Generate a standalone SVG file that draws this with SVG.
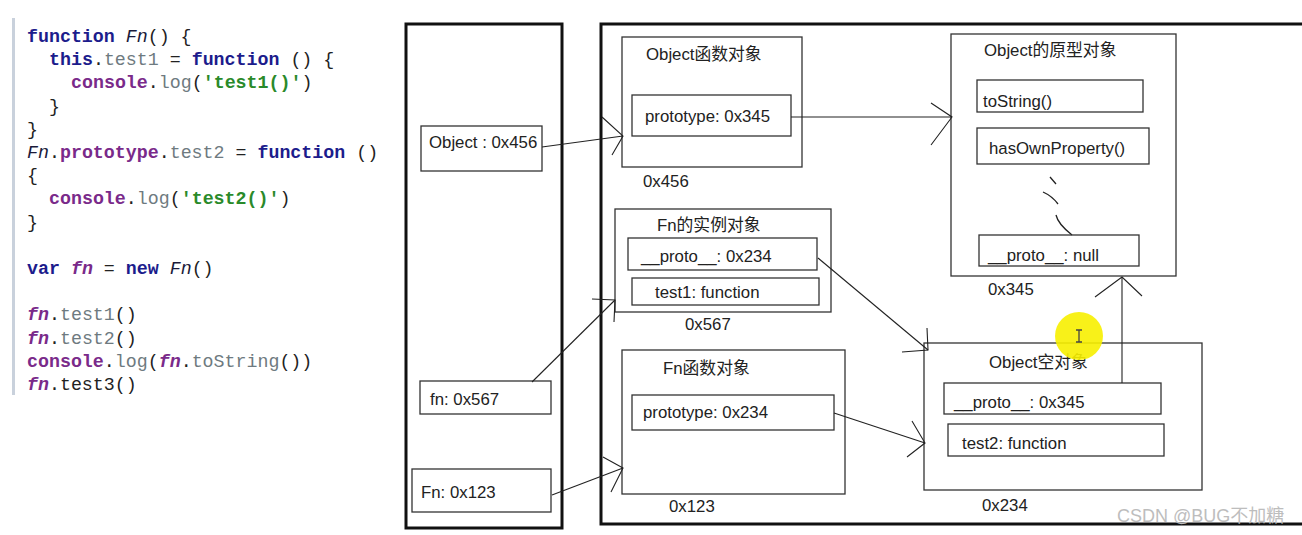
<svg xmlns="http://www.w3.org/2000/svg" width="1302" height="535" viewBox="0 0 1302 535">
<style>
.code{font-family:"Liberation Mono","DejaVu Sans Mono",monospace;font-size:18.3px;fill:#222}
.kw{fill:#1c1c8c;font-weight:bold}
.it{font-style:italic;fill:#1a1a3a}
.pu{fill:#7a2a8a;font-weight:bold}
.fi{font-style:italic;fill:#7a2a8a;font-weight:bold}
.gr{fill:#6e7a80}
.st{fill:#2a8a2a;font-weight:bold}
.lbl{font-family:"Liberation Sans","Noto Sans CJK SC",sans-serif;font-size:16.8px;fill:#222}
.box{fill:none;stroke:#333;stroke-width:1.3}
.thick{fill:none;stroke:#111;stroke-width:3}
.conn line,.conn path{stroke:#222;stroke-width:1.1;fill:none}
.wm{font-family:"Liberation Sans","Noto Sans CJK SC",sans-serif;font-size:18px;fill:#bdbdbd}
</style>
<rect width="1302" height="535" fill="#ffffff"/>
<g id="code">
<rect x="12" y="18" width="3" height="377" fill="#c9d1dc"/>
<text class="code" x="27" y="42"><tspan class="kw">function</tspan> <tspan class="it">Fn</tspan>() {</text>
<text class="code" x="49" y="65"><tspan class="kw">this</tspan>.<tspan class="gr">test1</tspan> = <tspan class="kw">function</tspan> () {</text>
<text class="code" x="71" y="88"><tspan class="pu">console</tspan>.<tspan class="gr">log</tspan>(<tspan class="st">'test1()'</tspan>)</text>
<text class="code" x="49" y="112">}</text>
<text class="code" x="27" y="135">}</text>
<text class="code" x="27" y="158"><tspan class="it">Fn</tspan>.<tspan class="pu">prototype</tspan>.<tspan class="gr">test2</tspan> = <tspan class="kw">function</tspan> ()</text>
<text class="code" x="27" y="181">{</text>
<text class="code" x="49" y="204"><tspan class="pu">console</tspan>.<tspan class="gr">log</tspan>(<tspan class="st">'test2()'</tspan>)</text>
<text class="code" x="27" y="228">}</text>
<text class="code" x="27" y="274"><tspan class="kw">var</tspan> <tspan class="fi">fn</tspan> = <tspan class="kw">new</tspan> <tspan class="it">Fn</tspan>()</text>
<text class="code" x="27" y="320"><tspan class="fi">fn</tspan>.<tspan class="gr">test1</tspan>()</text>
<text class="code" x="27" y="344"><tspan class="fi">fn</tspan>.<tspan class="gr">test2</tspan>()</text>
<text class="code" x="27" y="367"><tspan class="pu">console</tspan>.<tspan class="gr">log</tspan>(<tspan class="fi">fn</tspan>.<tspan class="gr">toString</tspan>())</text>
<text class="code" x="27" y="390"><tspan class="fi">fn</tspan>.test3()</text>
</g>
<g id="stack">
<rect class="thick" x="406" y="24" width="156" height="504"/>
</g>
<g id="heap">
<rect class="thick" x="601" y="24" width="720" height="500"/>
</g>
<g id="stack-object">
<rect class="box" x="421" y="126" width="121" height="45"/>
<text class="lbl" x="429" y="148">Object : 0x456</text>
</g>
<g id="stack-fn">
<rect class="box" x="420" y="381" width="131" height="33"/>
<text class="lbl" x="430" y="405">fn: 0x567</text>
</g>
<g id="stack-Fn">
<rect class="box" x="412" y="469" width="139" height="43"/>
<text class="lbl" x="421" y="498">Fn: 0x123</text>
</g>
<g id="object-function">
<rect class="box" x="622" y="37" width="180" height="130"/>
<text class="lbl" x="646" y="60">Object函数对象</text>
<rect class="box" x="632" y="95" width="159" height="41"/>
<text class="lbl" x="645" y="122">prototype: 0x345</text>
<text class="lbl" x="643" y="187">0x456</text>
</g>
<g id="fn-instance">
<rect class="box" x="615" y="209" width="216" height="103"/>
<text class="lbl" x="657" y="231">Fn的实例对象</text>
<rect class="box" x="628" y="238" width="189" height="32"/>
<text class="lbl" x="641" y="262">__proto__: 0x234</text>
<rect class="box" x="632" y="278" width="187" height="27"/>
<text class="lbl" x="655" y="298">test1: function</text>
<text class="lbl" x="685" y="330">0x567</text>
</g>
<g id="fn-function">
<rect class="box" x="622" y="350" width="223" height="144"/>
<text class="lbl" x="663" y="374">Fn函数对象</text>
<rect class="box" x="632" y="395" width="202" height="35"/>
<text class="lbl" x="643" y="418">prototype: 0x234</text>
<text class="lbl" x="669" y="512">0x123</text>
</g>
<g id="object-prototype">
<rect class="box" x="951" y="34" width="225" height="242"/>
<text class="lbl" x="984" y="56">Object的原型对象</text>
<rect class="box" x="977" y="80" width="166" height="32"/>
<text class="lbl" x="983" y="107">toString()</text>
<rect class="box" x="977" y="128" width="172" height="36"/>
<text class="lbl" x="989" y="154">hasOwnProperty()</text>
<path d="M1050,177 L1056,184 M1043,192 Q1052,196 1058,204 M1056,215 Q1058,224 1072,235" stroke="#222" stroke-width="1.3" fill="none"/>
<rect class="box" x="979" y="235" width="160" height="31"/>
<text class="lbl" x="988" y="261">__proto__: null</text>
<text class="lbl" x="988" y="295">0x345</text>
</g>
<g id="object-empty">
<rect class="box" x="924" y="343" width="278" height="147"/>
<text class="lbl" x="989" y="368">Object空对象</text>
<rect class="box" x="944" y="383" width="217" height="31"/>
<text class="lbl" x="954" y="408">__proto__: 0x345</text>
<rect class="box" x="948" y="424" width="216" height="32"/>
<text class="lbl" x="962" y="449">test2: function</text>
<text class="lbl" x="982" y="511">0x234</text>
</g>
<g id="connectors" class="conn">
<line x1="542" y1="147" x2="623" y2="136"/>
<path d="M602,117 L623,136 L612,155"/>
<line x1="791" y1="117" x2="952" y2="117"/>
<path d="M931,103 L952,117 L931,145"/>
<line x1="532" y1="382" x2="615" y2="300"/>
<path d="M592,299 L615,300 L614,322"/>
<line x1="552" y1="495" x2="623" y2="468"/>
<path d="M603,457 L623,468 L611,492"/>
<line x1="818" y1="258" x2="928" y2="350"/>
<path d="M927,328 L928,350 L902,352"/>
<line x1="834" y1="413" x2="925" y2="443"/>
<path d="M912,421 L925,443 L907,457"/>
<line x1="1122" y1="383" x2="1122" y2="277"/>
<path d="M1095,297 L1122,277 L1142,296"/>
</g>
<g id="cursor">
<circle cx="1079" cy="336" r="24" fill="#f7f000" opacity="0.9"/>
<path d="M1076,330 H1082 M1079,330 V342 M1076,342 H1082" stroke="#444" stroke-width="1.3" fill="none"/>
</g>
<text class="wm" x="1117" y="522">CSDN @BUG不加糖</text>
</svg>
